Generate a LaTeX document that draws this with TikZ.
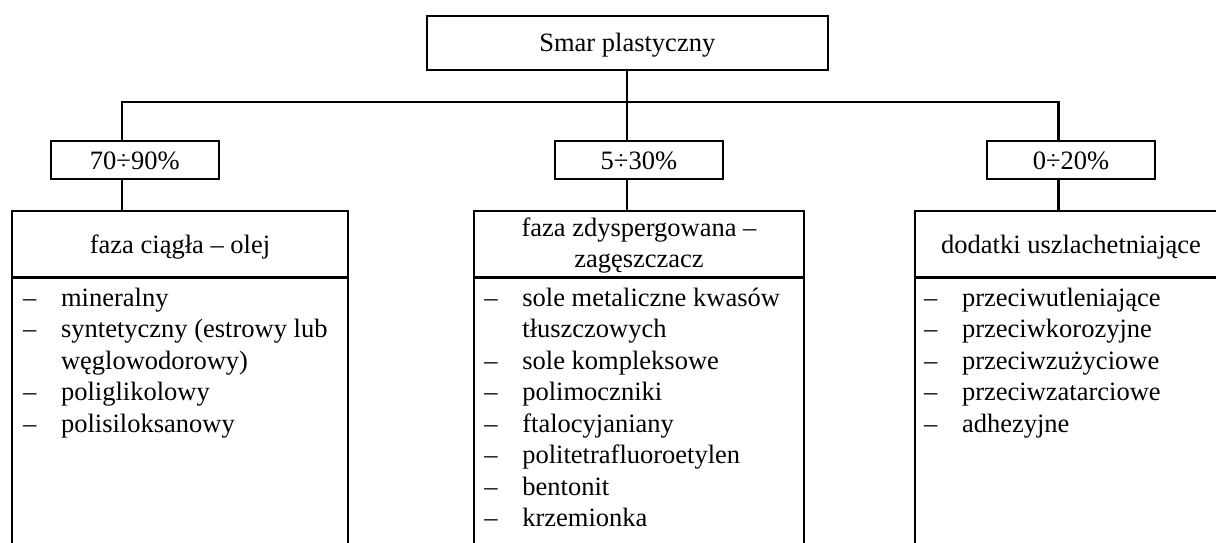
\documentclass[tikz,border=0pt]{standalone}
\usepackage{fontspec}
\setmainfont{Liberation Serif}
\usepackage{tikz}
\usetikzlibrary{positioning}

\newcommand{\lista}[1]{\begin{tabular}[t]{@{}l@{}l@{}}#1\end{tabular}}
\newcommand{\pkt}{\makebox[38pt][l]{–}}

\begin{document}
\begin{tikzpicture}[x=1pt,y=-1pt,line width=2.2pt,
  every node/.style={font=\fontsize{26.5}{31.5}\selectfont},
  box/.style={draw,rectangle,inner sep=0pt,outer sep=0pt,text height=22pt,text depth=4pt},
  proc/.style={box,minimum width=168.3,minimum height=38},
  head/.style={box,minimum height=66.8},
  listbox/.style={draw,rectangle,inner sep=0pt,outer sep=0pt,minimum height=300},
  items/.style={anchor=base west,inner sep=0pt}]
\useasboundingbox (0,0) rectangle (1216,543);
\clip (0,0) rectangle (1216,543);

\node[box,minimum width=401.3,minimum height=54] (smar) at (627.3,43) {Smar plastyczny};

\node[proc] (p1) at (134.8,160) {70÷90\%};
\node[proc] (p2) at (638.9,160) {5÷30\%};
\node[proc] (p3) at (1071,160) {0÷20\%};

\node[head,minimum width=336] (h1) at (180,244.1) {faza ciągła – olej};
\node[head,minimum width=330,text depth=38pt] (h2) at (639,244.1)
  {\begin{tabular}[t]{@{}c@{}}faza zdyspergowana –\\zagęszczacz\end{tabular}};
\node[head,minimum width=312] (h3) at (1071,244.1) {dodatki uszlachetniające};

\node[listbox,minimum width=336,below=0pt of h1] (l1) {};
\node[listbox,minimum width=330,below=0pt of h2] (l2) {};
\node[listbox,minimum width=312,below=0pt of h3] (l3) {};

\node[items] (i1) at (22,306) {\lista{
  \pkt & mineralny\\
  \pkt & syntetyczny (estrowy lub\\
       & węglowodorowy)\\
  \pkt & poliglikolowy\\
  \pkt & polisiloksanowy}};
\node[items] (i2) at (483.3,306) {\lista{
  \pkt & sole metaliczne kwasów\\
       & tłuszczowych\\
  \pkt & sole kompleksowe\\
  \pkt & polimoczniki\\
  \pkt & ftalocyjaniany\\
  \pkt & politetrafluoroetylen\\
  \pkt & bentonit\\
  \pkt & krzemionka}};
\node[items] (i3) at (923,306) {\lista{
  \pkt & przeciwutleniające\\
  \pkt & przeciwkorozyjne\\
  \pkt & przeciwzużyciowe\\
  \pkt & przeciwzatarciowe\\
  \pkt & adhezyjne}};

% rozgalezienie
\coordinate (jl) at (122,101.7);
\coordinate (jr) at (1058.5,101.7);
\draw (smar.south) -- (smar.south |- jl);
\draw (jl |- p1.north) -- (jl) -- (jr) -- (jr |- p3.north);
\draw (smar.south |- jl) -- (smar.south |- p2.north);
\draw (jl |- p1.south) -- (jl |- h1.north);
\draw (smar.south |- p2.south) -- (smar.south |- h2.north);
\draw (jr |- p3.south) -- (jr |- h3.north);
\end{tikzpicture}
\end{document}
